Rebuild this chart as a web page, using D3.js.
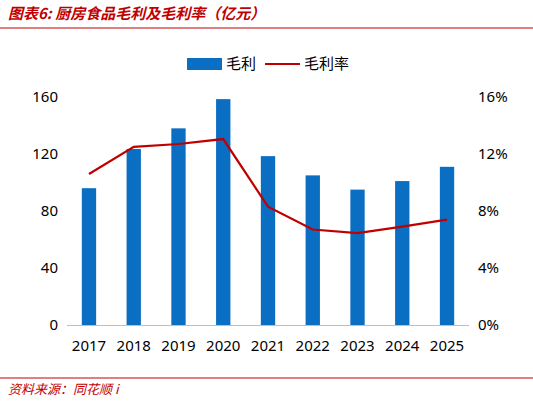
<!DOCTYPE html><html><head><meta charset="utf-8"><script src="https://cdn.jsdelivr.net/npm/d3@7"></script>
<style>body{margin:0;background:#fff}text{font-family:"Noto Sans CJK SC","Noto Sans",sans-serif}</style></head><body><svg id="c" width="533" height="404"></svg><script>
const categories=["2017","2018","2019","2020","2021","2022","2023","2024","2025"];
const profit=[96,123.5,138,158.5,118.5,105,95,101,111];
const margin=[10.6,12.5,12.7,13.05,8.3,6.7,6.45,6.9,7.4];
const leftTicks=[0,40,80,120,160];
const rightTicks=[0,4,8,12,16];
const svg=d3.select("#c");
const red="#C00000",blue="#0A6EC3";
svg.append("text").attr("x",8).attr("y",19).attr("fill",red).attr("font-size",15).attr("font-weight","bold").attr("font-style","italic").text("图表6:  厨房食品毛利及毛利率（亿元）");
svg.append("line").attr("x1",0).attr("x2",533).attr("y1",28).attr("y2",28).attr("stroke",red).attr("stroke-width",1);
svg.append("line").attr("x1",0).attr("x2",533).attr("y1",378).attr("y2",378).attr("stroke",red).attr("stroke-width",1);
svg.append("text").attr("x",8).attr("y",394).attr("fill",red).attr("font-size",13).attr("font-style","italic").text("资料来源：同花顺 i");
const x=d3.scaleBand().domain(categories).range([66.6,469.4]).paddingInner(0.68).paddingOuter(0.34);
const y=d3.scaleLinear().domain([0,160]).range([325,97]);
const y2=d3.scaleLinear().domain([0,16]).range([325,97]);
svg.selectAll(".b").data(profit).join("rect").attr("x",(d,i)=>x(categories[i])).attr("width",x.bandwidth()).attr("y",d=>y(d)).attr("height",d=>325-y(d)).attr("fill",blue);
svg.append("path").datum(margin).attr("fill","none").attr("stroke",red).attr("stroke-width",2.2)
 .attr("d",d3.line().x((d,i)=>x(categories[i])+x.bandwidth()/2).y(d=>y2(d)));
svg.append("line").attr("x1",67).attr("x2",469).attr("y1",325.5).attr("y2",325.5).attr("stroke","#bfbfbf");
const fs=15;
const ax=svg.append("g").attr("transform","translate(0,325)").call(d3.axisBottom(x).tickSize(0).tickPadding(15));
ax.select(".domain").remove();ax.selectAll("text").attr("font-size",fs).attr("fill","#000").style("font-family","Noto Sans");
const al=svg.append("g").attr("transform","translate(58,0)").call(d3.axisLeft(y).tickValues(leftTicks).tickSize(0).tickPadding(0));
al.select(".domain").remove();al.selectAll("text").attr("font-size",fs).attr("fill","#000").style("font-family","Noto Sans");
const ar=svg.append("g").attr("transform","translate(478,0)").call(d3.axisRight(y2).tickValues(rightTicks).tickSize(0).tickPadding(0).tickFormat(d=>d+"%"));
ar.select(".domain").remove();ar.selectAll("text").attr("font-size",fs).attr("fill","#000").style("font-family","Noto Sans");
svg.append("rect").attr("x",187).attr("y",58).attr("width",35).attr("height",12).attr("fill",blue);
svg.append("text").attr("x",226).attr("y",69).attr("font-size",15).text("毛利");
svg.append("line").attr("x1",265).attr("x2",300).attr("y1",64).attr("y2",64).attr("stroke",red).attr("stroke-width",2.2);
svg.append("text").attr("x",304).attr("y",69).attr("font-size",15).text("毛利率");
</script></body></html>
